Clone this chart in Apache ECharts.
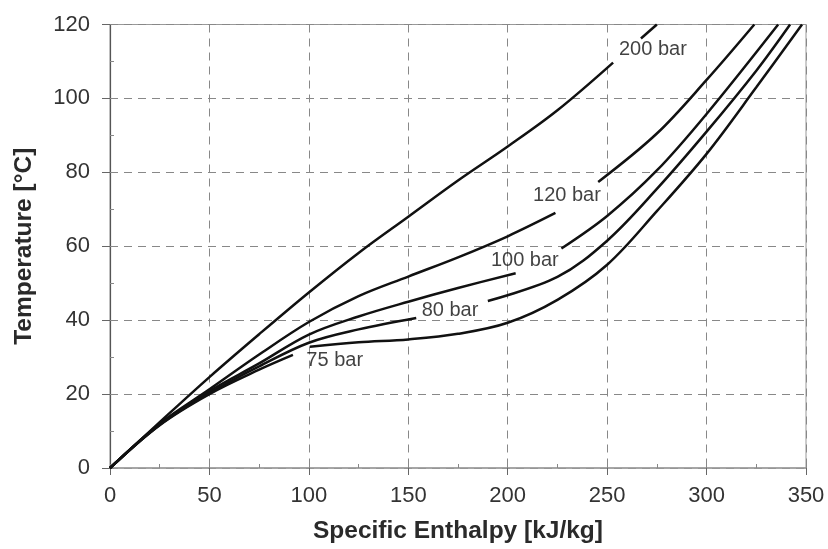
<!DOCTYPE html>
<html>
<head>
<meta charset="utf-8">
<title>CO2 isobars</title>
<script src="https://cdn.jsdelivr.net/npm/echarts@6.0.0/dist/echarts.min.js"></script>
<style>
  html, body { margin: 0; padding: 0; background: #fff; }
  #chart { width: 828px; height: 549px; }
</style>
</head>
<body>
<div id="chart"></div>
<script>
// isobars, enthalpy [kJ/kg] vs temperature [°C]; null = gap where the label sits
var h200 = [0, 25, 50, 75, 100, 125, 150, 175, 200, 225, 253, null, 267, 275]
var t200 = [0, 12.4, 24.6, 36.2, 47.5, 58.2, 68, 77.8, 87, 96.8, 109.7, null, 116.2, 120]

var h120 = [0, 25, 50, 75, 100, 125, 150, 175, 200, 224, null, 245.5, 275, 300, 324]
var t120 = [0, 12, 21.3, 30.7, 39.5, 46.5, 51.8, 57, 62.7, 69, null, 77.4, 90.5, 105, 120]

var h100 = [0, 25, 50, 75, 100, 125, 150, 175, 204, null, 227, 250, 275, 300, 336]
var t100 = [0, 11.8, 20.8, 28.3, 36.1, 41, 45, 48.7, 52.7, null, 59.4, 68.2, 80.5, 95.8, 120]

var h80 = [0, 25, 50, 75, 100, 125, 154, null, 190, 225, 250, 275, 300, 325, 342]
var t80 = [0, 11.7, 20.3, 27.5, 33.9, 37.5, 40.6, null, 45.2, 51.7, 61.5, 75.5, 91, 107.5, 120]

var h75 = [0, 25, 50, 75, 92, null, 100.5, 125, 150, 175, 200, 225, 250, 275, 300, 325, 348]
var t75 = [0, 11.6, 20, 26.6, 30.6, null, 32.8, 34, 34.8, 36.3, 39.3, 45.5, 55, 69.5, 85, 103, 120]

// curve labels
var labelText = ['200 bar', '120 bar', '100 bar', '80 bar', '75 bar']
var labelH = [273, 229.8, 208.6, 171, 113]
var labelT = [113.2, 73.7, 56.2, 42.5, 29]

var xTicks = [0, 50, 100, 150, 200, 250, 300, 350]
var yTicks = [0, 20, 40, 60, 80, 100, 120]

// split a curve into segments at the nulls
function segments (h, t) {
  var out = []
  var cur = []
  for (var i = 0; i < h.length; i++) {
    if (h[i] === null) {
      out.push(cur)
      cur = []
    } else {
      cur.push([h[i], t[i]])
    }
  }
  out.push(cur)
  return out
}

var series = []
;[[h200, t200], [h120, t120], [h100, t100], [h80, t80], [h75, t75]].forEach(function (c) {
  segments(c[0], c[1]).forEach(function (seg) {
    series.push({
      type: 'line',
      data: seg,
      smooth: 0.35,
      showSymbol: false,
      lineStyle: { color: '#111', width: 2.5 },
      z: 3
    })
  })
})

series.push({
  type: 'scatter',
  symbolSize: 0,
  data: labelText.map(function (s, i) { return { name: s, value: [labelH[i], labelT[i]] } }),
  label: {
    show: true,
    position: 'inside',
    formatter: '{b}',
    fontFamily: 'Liberation Sans',
    fontSize: 20,
    color: '#111'
  },
  z: 5
})

var font = 'Liberation Sans'
var chart = echarts.init(document.getElementById('chart'))
chart.setOption({
  animation: false,
  grid: { left: 110, right: 22, top: 24.5, bottom: 78, show: true, borderColor: '#999', borderWidth: 1 },
  xAxis: [
    {
      type: 'value',
      min: xTicks[0],
      max: xTicks[xTicks.length - 1],
      interval: 50,
      name: 'Specific Enthalpy [kJ/kg]',
      nameLocation: 'middle',
      nameGap: 51,
      nameTextStyle: { fontFamily: font, fontSize: 24.5, fontWeight: 'bold', color: '#2a2a2a' },
      axisLine: { lineStyle: { color: '#999', width: 1.5 } },
      axisTick: { length: 7, lineStyle: { color: '#666' } },
      axisLabel: { fontFamily: font, fontSize: 22, color: '#333', margin: 17 },
      splitLine: { show: true, lineStyle: { color: '#888', type: [8, 6] } }
    },
    {
      // minor ticks pointing up
      type: 'value',
      min: 0,
      max: 350,
      interval: 25,
      position: 'bottom',
      axisLine: { show: false },
      axisTick: { inside: true, length: 4, lineStyle: { color: '#888' } },
      axisLabel: { show: false },
      splitLine: { show: false }
    }
  ],
  yAxis: [
    {
      type: 'value',
      min: yTicks[0],
      max: yTicks[yTicks.length - 1],
      interval: 20,
      name: 'Temperature [°C]',
      nameLocation: 'middle',
      nameGap: 73,
      nameTextStyle: { fontFamily: font, fontSize: 24.5, fontWeight: 'bold', color: '#2a2a2a' },
      axisLine: { show: true, lineStyle: { color: '#555', width: 1.2 } },
      axisTick: { show: true, length: 8, lineStyle: { color: '#666' } },
      axisLabel: { fontFamily: font, fontSize: 22, color: '#333', margin: 20 },
      splitLine: { show: true, lineStyle: { color: '#888', type: [8, 6] } }
    },
    {
      type: 'value',
      min: 0,
      max: 120,
      interval: 10,
      position: 'left',
      axisLine: { show: false },
      axisTick: { show: true, inside: true, length: 4, lineStyle: { color: '#888' } },
      axisLabel: { show: false },
      splitLine: { show: false }
    }
  ],
  series: series
})
</script>
</body>
</html>
